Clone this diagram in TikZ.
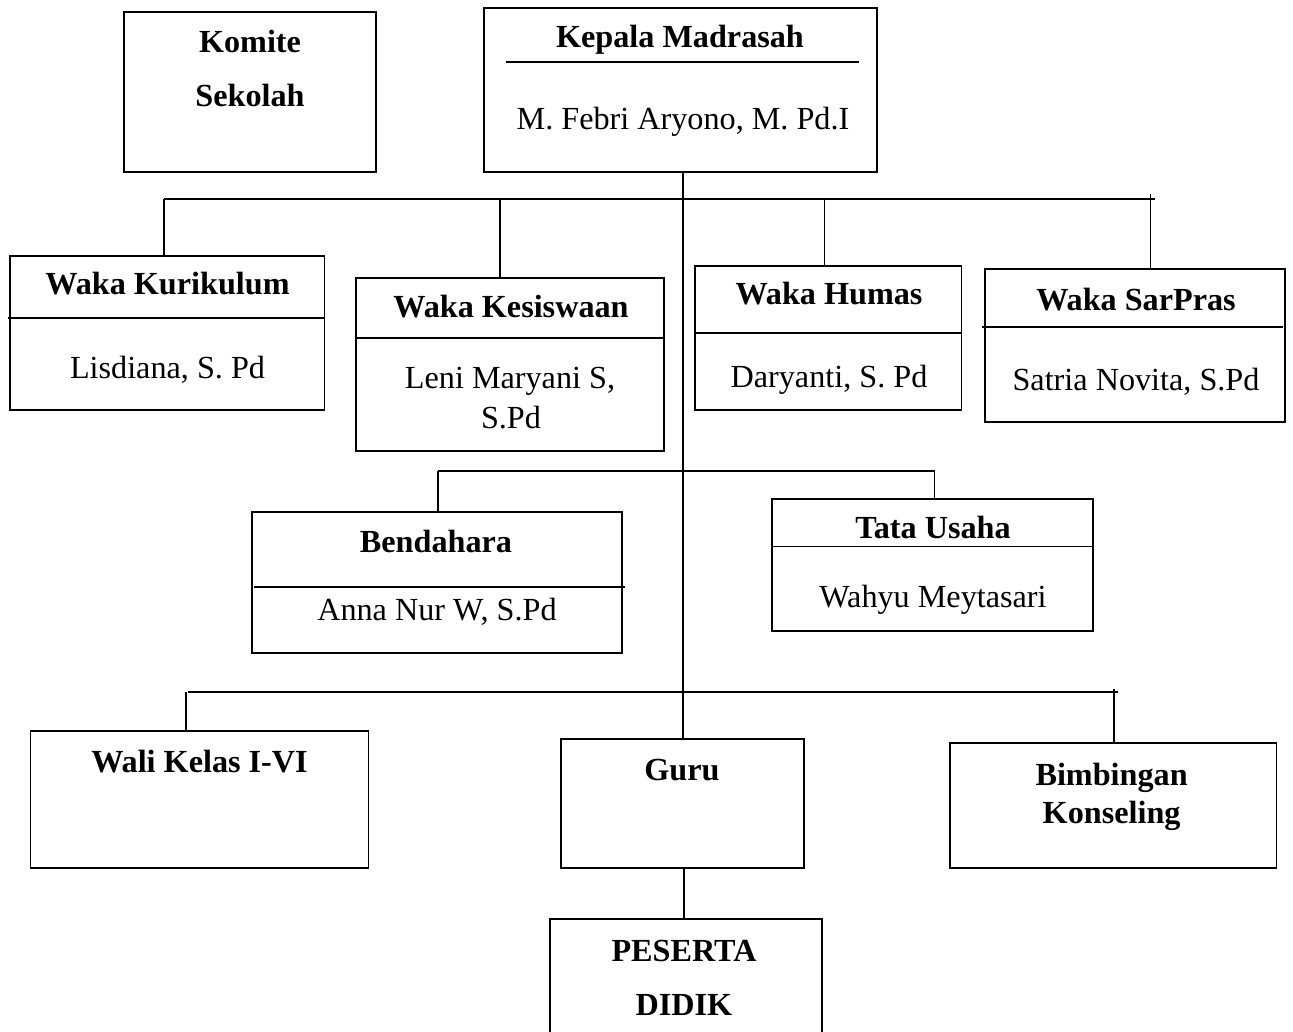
\documentclass[tikz,border=0pt]{standalone}
\usepackage{fontspec}
\setmainfont{Liberation Serif}
\newcommand\myfs{\fontsize{32.2}{37}\selectfont}
\begin{document}
\begin{tikzpicture}[x=1pt,y=-1pt,
  box/.style={draw, line width=1.6pt, anchor=north west, inner sep=0pt, outer sep=0pt},
  ttl/.style={font=\myfs\bfseries, anchor=base, inner sep=0pt},
  nm/.style={font=\myfs, anchor=base, inner sep=0pt},
  conn/.style={line width=1.3pt},
  bar/.style={line width=2.2pt},
  div/.style={line width=1.5pt}]
\useasboundingbox (0,0) rectangle (1293,1032);
% boxes
\node[box, minimum width=252pt, minimum height=160pt] (kom) at (124,12) {};
\node[box, minimum width=393pt, minimum height=164pt] (kep) at (484,8) {};
\node[box, minimum width=314.5pt, minimum height=154pt] (kur) at (10,256) {};
\node[box, minimum width=308pt, minimum height=173pt] (kes) at (356,278) {};
\node[box, minimum width=266.5pt, minimum height=144pt] (hum) at (695,266) {};
\node[box, minimum width=300pt, minimum height=153pt] (sar) at (985,269) {};
\node[box, minimum width=370pt, minimum height=141pt] (ben) at (252,512) {};
\node[box, minimum width=321pt, minimum height=132pt] (tat) at (772,499) {};
\node[box, minimum width=338pt, minimum height=137pt] (wal) at (30.5,731) {};
\node[box, minimum width=243pt, minimum height=129pt] (gur) at (561,739) {};
\node[box, minimum width=326.5pt, minimum height=125pt] (bim) at (950,743) {};
\node[box, minimum width=272pt, minimum height=140pt] (pes) at (550,919) {};
% dividers
\draw[div] (506,62) -- (858.5,62);
\draw[div] (7.6,318) -- (324.5,318);
\draw[div] (356,338) -- (664,338);
\draw[div] (695,333) -- (961.5,333);
\draw[div] (982,327) -- (1283,327);
\draw[div] (254,587) -- (625,587);
\draw[div] (772,546.7) -- (1093,546.7);
% texts
\node[ttl] (tkom1) at (250,53) {Komite};
\node[ttl] (tkom2) at (250,107) {Sekolah};
\node[ttl] (tkep) at (680,48) {Kepala Madrasah};
\node[nm] (nkep) at (683,130) {M. Febri Aryono, M. Pd.I};
\node[ttl] (tkur) at (167.5,295) {Waka Kurikulum};
\node[nm] (nkur) at (167.5,378) {Lisdiana, S. Pd};
\node[ttl] (tkes) at (511,318) {Waka Kesiswaan};
\node[nm] (nkes1) at (510,388) {Leni Maryani S,};
\node[nm] (nkes2) at (511,428) {S.Pd};
\node[ttl] (thum) at (829,305) {Waka Humas};
\node[nm] (nhum) at (829,387) {Daryanti, S. Pd};
\node[ttl] (tsar) at (1136,310) {Waka SarPras};
\node[nm] (nsar) at (1136,390) {Satria Novita, S.Pd};
\node[ttl] (tben) at (436,552) {Bendahara};
\node[nm] (nben) at (437,620) {Anna Nur W, S.Pd};
\node[ttl] (ttat) at (933,538) {Tata Usaha};
\node[nm] (ntat) at (933,607) {Wahyu Meytasari};
\node[ttl] (twal) at (199.5,772) {Wali Kelas I-VI};
\node[ttl] (tgur) at (682,780) {Guru};
\node[ttl] (tbim1) at (1111.6,785) {Bimbingan};
\node[ttl] (tbim2) at (1111.6,823) {Konseling};
\node[ttl] (tpes1) at (684,961) {PESERTA};
\node[ttl] (tpes2) at (684,1015) {DIDIK};
% connector points
\coordinate (t1) at (164,199);
\coordinate (t2) at (500,199);
\coordinate (t3) at (824.5,199);
\coordinate (t4) at (1150.6,194);
\coordinate (tR) at (1155,199);
\coordinate (mv) at (683,199);
\coordinate (m1) at (438,471);
\coordinate (m2) at (934.5,471);
\coordinate (b1) at (186,692);
\coordinate (b1s) at (188,692);
\coordinate (b3) at (1114,689);
\coordinate (bR) at (1117.7,692);
\coordinate (gp) at (684,0);
% connectors
\draw[bar] (t1) -- (tR);
\draw[conn] (t1) -- (t1 |- kur.north);
\draw[conn] (t2) -- (t2 |- kes.north);
\draw[conn] (t3) -- (t3 |- hum.north);
\draw[conn] (t4) -- (t4 |- sar.north);
\draw[conn] (mv |- kep.south) -- (mv |- gur.north);
\draw[conn] (m1) -- (m2);
\draw[conn] (m1) -- (m1 |- ben.north);
\draw[conn] (m2) -- (m2 |- tat.north);
\draw[bar] (b1s) -- (bR);
\draw[conn] (b1) -- (b1 |- wal.north);
\draw[conn] (b3) -- (b3 |- bim.north);
\draw[conn] (gp |- gur.south) -- (gp |- pes.north);
\end{tikzpicture}
\end{document}
